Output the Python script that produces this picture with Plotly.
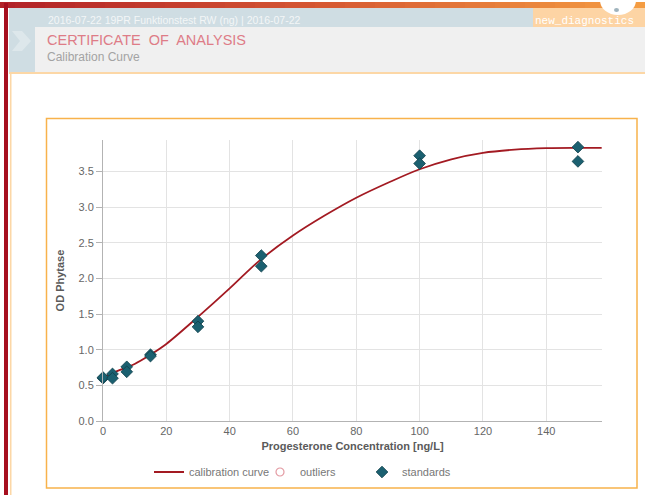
import plotly.graph_objects as go

# ---------------- data ----------------
std_conc = [0, 0, 3, 3, 7.5, 7.5, 15, 15, 30, 30, 50, 50, 100, 100, 150, 150]
std_od = [0.60, 0.61, 0.66, 0.60, 0.76, 0.69, 0.93, 0.91, 1.40, 1.32, 2.32, 2.17, 3.72, 3.61, 3.84, 3.64]

curve_conc = [0, 5, 10, 15, 20, 30, 40, 45, 50, 60, 70, 80, 90, 100, 110, 120, 130, 140, 150, 157.5]
curve_od = [0.61, 0.71, 0.80, 0.93, 1.08, 1.46, 1.86, 2.07, 2.27, 2.60, 2.88, 3.13, 3.34, 3.53, 3.67, 3.76, 3.805, 3.825, 3.83, 3.83]

outlier_conc = [None]
outlier_od = [None]

x_ticks = [0, 20, 40, 60, 80, 100, 120, 140]
y_ticks = [0.0, 0.5, 1.0, 1.5, 2.0, 2.5, 3.0, 3.5]

header_line = "2016-07-22 19PR Funktionstest RW (ng) | 2016-07-22"
header_title = "CERTIFICATE  OF  ANALYSIS"
header_sub = "Calibration Curve"
brand = "new_diagnostics"

# ---------------- layout geometry ----------------
W, H = 645, 495
ML, MR, MT, MB = 103, 43, 140, 74
PW = W - ML - MR
PH = H - MT - MB


def xp(px):
    return (px - ML) / PW


def yp(py):
    return (H - MB - py) / PH


FONT = "Liberation Sans, Arial, sans-serif"

fig = go.Figure()

fig.add_trace(go.Scatter(
    x=curve_conc, y=curve_od, mode="lines", name="calibration curve",
    line=dict(color="#a31a22", width=1.8, shape="spline", smoothing=1.0),
    legend="legend", hoverinfo="skip"))
fig.add_trace(go.Scatter(
    x=outlier_conc, y=outlier_od, mode="markers", name="outliers",
    marker=dict(symbol="circle-open", size=8, color="#e39aa2", line=dict(width=1.2)),
    legend="legend2", showlegend=True))
fig.add_trace(go.Scatter(
    x=std_conc, y=std_od, mode="markers", name="standards",
    marker=dict(symbol="diamond", size=9, color="#1b6070",
                line=dict(color="#0f3f4a", width=0.8)),
    cliponaxis=False, legend="legend3"))

shapes = []


def rect(x0, y0, x1, y1, fill):
    shapes.append(dict(type="rect", xref="paper", yref="paper",
                       x0=xp(x0), x1=xp(x1), y0=yp(y1), y1=yp(y0),
                       fillcolor=fill, line=dict(width=0)))


# gradient top bar
stops = [(0.0, (178, 34, 40)), (0.5, (214, 88, 50)), (1.0, (244, 156, 66))]


def grad(t):
    for i in range(len(stops) - 1):
        a, ca = stops[i]
        b, cb = stops[i + 1]
        if a <= t <= b:
            f = (t - a) / (b - a)
            return "rgb(%d,%d,%d)" % tuple(round(ca[k] + (cb[k] - ca[k]) * f) for k in range(3))
    return "rgb(244,156,66)"


N = 43
for i in range(N):
    x0 = W * i / N
    x1 = W * (i + 1) / N + 0.5
    rect(x0, 2, x1, 8, grad(i / (N - 1)))

rect(9, 8, 533, 27, "#cfdde3")          # blue-gray header strip
rect(9, 27, 35, 72, "#cfdde3")          # blue-gray column
rect(533, 8, 645, 27, "#fdd4a4")        # orange brand strip
rect(35, 27, 645, 72, "#f0f0f0")        # gray title panel
rect(9, 72, 645, 74, "#fcd7a6")         # pale orange separator
rect(10, 74, 11.5, 495, "#fcd7a6")      # pale orange left border
rect(4, 3, 8, 495, "#a60f1f")           # dark red left line

# chevron arrow in the column
cx = [12, 22, 31, 22, 12, 20]
cy = [31, 31, 41, 51, 51, 41]
path = "M " + " L ".join("%f,%f" % (xp(a), yp(b)) for a, b in zip(cx, cy)) + " Z"
shapes.append(dict(type="path", xref="paper", yref="paper", path=path,
                   fillcolor="#dde7eb", line=dict(width=0)))

# white logo ellipse top right
shapes.append(dict(type="circle", xref="paper", yref="paper",
                   x0=xp(600), x1=xp(636), y0=yp(15), y1=yp(-14),
                   fillcolor="#ffffff", line=dict(width=0)))
shapes.append(dict(type="circle", xref="paper", yref="paper",
                   x0=xp(614), x1=xp(619), y0=yp(12), y1=yp(8),
                   fillcolor="#9fb3bd", line=dict(width=0)))

# chart frame
shapes.append(dict(type="rect", xref="paper", yref="paper",
                   x0=xp(46.5), x1=xp(637), y0=yp(488), y1=yp(118.5),
                   fillcolor="rgba(0,0,0,0)", line=dict(color="#f8b24b", width=1.5)))

annotations = [
    dict(text=header_line, x=xp(46), y=yp(20), xref="paper", yref="paper",
         xanchor="left", yanchor="middle", showarrow=False,
         font=dict(family=FONT, size=10.5, color="#f3f6f7")),
    dict(text=header_title, x=xp(45), y=yp(40), xref="paper", yref="paper",
         xanchor="left", yanchor="middle", showarrow=False,
         font=dict(family=FONT, size=14.5, color="#de7c87")),
    dict(text=header_sub, x=xp(45), y=yp(57), xref="paper", yref="paper",
         xanchor="left", yanchor="middle", showarrow=False,
         font=dict(family=FONT, size=12, color="#a3a3a3")),
    dict(text=brand, x=xp(533), y=yp(21), xref="paper", yref="paper",
         xanchor="left", yanchor="middle", showarrow=False,
         font=dict(family="Liberation Mono, DejaVu Sans Mono, monospace", size=11, color="#ffffff")),
]

legend_common = dict(orientation="h", xanchor="left", yanchor="middle",
                     bgcolor="rgba(0,0,0,0)", borderwidth=0,
                     font=dict(family=FONT, size=11, color="#777777"))

fig.update_layout(
    width=W, height=H,
    margin=dict(l=ML, r=MR, t=MT, b=MB, pad=0, autoexpand=False),
    paper_bgcolor="#ffffff", plot_bgcolor="#ffffff",
    font=dict(family=FONT, size=11, color="#666666"),
    shapes=shapes, annotations=annotations,
    legend=dict(x=xp(149), y=yp(472), **legend_common),
    legend2=dict(x=xp(260), y=yp(472), **legend_common),
    legend3=dict(x=xp(362), y=yp(472), **legend_common),
    xaxis=dict(range=[0, 157.6], tickvals=x_ticks, showgrid=True, gridcolor="#e3e3e3",
               gridwidth=1, showline=True, linecolor="#b3b3b3", linewidth=1,
               ticks="", zeroline=False,
               tickfont=dict(family=FONT, size=11, color="#666666"),
               title=dict(text="Progesterone Concentration [ng/L]", standoff=6,
                          font=dict(family=FONT, size=11, color="#5a5a5a", weight="bold"))),
    yaxis=dict(range=[0, 3.94], tickvals=y_ticks, tickformat=".1f", showgrid=True,
               gridcolor="#e3e3e3", gridwidth=1, showline=True, linecolor="#b3b3b3",
               linewidth=1, ticks="outside", ticklen=6, tickcolor="#b3b3b3", zeroline=False,
               tickfont=dict(family=FONT, size=11, color="#666666"),
               title=dict(text="OD Phytase", standoff=11,
                          font=dict(family=FONT, size=11, color="#5a5a5a", weight="bold"))),
    showlegend=True,
)

fig.write_html("out.html", config={"displayModeBar": False},
               post_script="document.body.style.margin='0';")
